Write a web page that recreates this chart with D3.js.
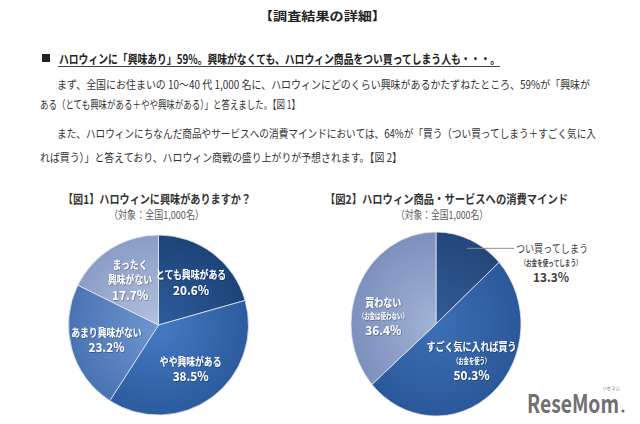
<!DOCTYPE html>
<html><head><meta charset="utf-8">
<script src="https://cdn.jsdelivr.net/npm/d3@7"></script>
<style>
html,body{margin:0;padding:0;background:#fff;}
text{font-family:"Noto Sans CJK JP","Noto Sans",sans-serif;}
</style></head>
<body><div id="chart"></div>
<script>
// ---- data ----
const pageTitle = "【調査結果の詳細】";
const heading = "ハロウィンに「興味あり」59%。興味がなくても、ハロウィン商品をつい買ってしまう人も・・・。";
const bodyLines = [
  "まず、全国にお住まいの 10～40 代 1,000 名に、ハロウィンにどのくらい興味があるかたずねたところ、59%が「興味が",
  "ある（とても興味がある＋やや興味がある）」と答えました。【図 1】",
  "また、ハロウィンにちなんだ商品やサービスへの消費マインドにおいては、64%が「買う（つい買ってしまう＋すごく気に入",
  "れば買う）」と答えており、ハロウィン商戦の盛り上がりが予想されます。【図 2】"
];
const fig1Title = "【図1】ハロウィンに興味がありますか？";
const fig2Title = "【図2】ハロウィン商品・サービスへの消費マインド";
const subtitle = "（対象：全国1,000名）";

const pie1Labels = [["とても興味がある"], ["やや興味がある"], ["あまり興味がない"], ["まったく", "興味がない"]];
const pie1Values = [20.6, 38.5, 23.2, 17.7];

const pie2Labels = ["つい買ってしまう", "すごく気に入れば買う", "買わない"];
const pie2Subs = ["（お金を使ってしまう）", "（お金を使う）", "（お金は使わない）"];
const pie2Values = [13.3, 50.3, 36.4];

// ---- styles ----
const pie1Colors = [["#2d5c9c", "#1d4479"], ["#457ac2", "#2c5b9e"], ["#6f97d1", "#4a73b2"], ["#b3c1de", "#8b9dc6"]];
const pie2Colors = [["#315d99", "#23467b"], ["#3d6fb5", "#2b589a"], ["#a3b3d6", "#7d90bd"]];
const pie2LabelNudge = [[0, 0], [0, -7], [-4, 16]];

const W = 640, H = 424;
const svg = d3.select("#chart").append("svg").attr("width", W).attr("height", H);
svg.append("rect").attr("width", W).attr("height", H).attr("fill", "#fff");
const defs = svg.append("defs");
const sh = defs.append("filter").attr("id", "sh").attr("x", "-20%").attr("y", "-20%").attr("width", "140%").attr("height", "140%");
sh.append("feDropShadow").attr("dx", 0.6).attr("dy", 0.6).attr("stdDeviation", 0.6).attr("flood-color", "#000").attr("flood-opacity", 0.45);

function fitText(sel, x, y, str, len, size, weight, fill, anchor) {
  return sel.append("text").attr("x", x).attr("y", y).text(str)
    .attr("font-size", size).attr("font-weight", weight || "normal")
    .attr("fill", fill || "#333").attr("text-anchor", anchor || "start")
    .attr("dominant-baseline", "central")
    .attr("textLength", len).attr("lengthAdjust", "spacingAndGlyphs");
}
// approximate label widths (Meiryo-like proportions)
function jpWidth(str, per) {
  let w = 0;
  for (const ch of str) w += /[（）]/.test(ch) ? per * 0.6 : per;
  return w;
}

// header
fitText(svg, 259, 15, pageTitle, 127, 12, "bold", "#222");
svg.append("rect").attr("x", 42).attr("y", 54).attr("width", 8).attr("height", 8).attr("fill", "#222");
fitText(svg, 59, 58, heading, 441, 12.5, "bold", "#222");
svg.append("line").attr("x1", 58).attr("x2", 500).attr("y1", 66.5).attr("y2", 66.5).attr("stroke", "#444").attr("stroke-width", 1);
const bodyX = [57, 40, 57, 40];
const bodyLen = [533, 260, 539, 362];
const bodyY = [84, 104, 133, 157];
bodyLines.forEach((t, i) => fitText(svg, bodyX[i], bodyY[i], t, bodyLen[i], 11.5, "normal", "#333"));

// figure titles
fitText(svg, 63, 198, fig1Title, 188, 12, "bold", "#333");
fitText(svg, 109, 214, subtitle, 95, 11, "normal", "#595959");
fitText(svg, 325, 198, fig2Title, 243, 12, "bold", "#333");
fitText(svg, 396, 214, subtitle, 92, 11, "normal", "#595959");

const pie = d3.pie().sort(null).value(d => d);

// ---- pie 1 ----
const c1 = {x: 158.5, y: 325, r: 90};
const g1 = svg.append("g").attr("transform", `translate(${c1.x},${c1.y})`);
pie1Colors.forEach((c, i) => {
  const gr = defs.append("radialGradient").attr("id", "p1g" + i).attr("gradientUnits", "userSpaceOnUse")
    .attr("cx", 0).attr("cy", 0).attr("r", c1.r);
  gr.append("stop").attr("offset", "0%").attr("stop-color", c[0]);
  gr.append("stop").attr("offset", "100%").attr("stop-color", c[1]);
});
const arc1 = d3.arc().innerRadius(0).outerRadius(c1.r);
const lab1 = d3.arc().innerRadius(c1.r * 0.6).outerRadius(c1.r * 0.6);
const a1 = pie(pie1Values);
g1.selectAll("path").data(a1).join("path").attr("d", arc1)
  .attr("fill", (d, i) => `url(#p1g${i})`).attr("stroke", "#dfe6f2").attr("stroke-width", 0.8);
a1.forEach((d, i) => {
  const [x, y] = lab1.centroid(d);
  const lines = pie1Labels[i].concat([d.data.toFixed(1) + "%"]);
  const lh = 15;
  const y0 = y - (lines.length - 1) * lh / 2;
  lines.forEach((t, j) => {
    const isPct = j === lines.length - 1;
    g1.append("text").attr("x", x).attr("y", y0 + j * lh).text(t)
      .attr("text-anchor", "middle").attr("dominant-baseline", "central")
      .attr("font-size", isPct ? 12.5 : 11).attr("font-weight", "bold")
      .attr("textLength", isPct ? 36 : jpWidth(t, 8.8)).attr("lengthAdjust", "spacingAndGlyphs")
      .attr("fill", "#fff").attr("filter", "url(#sh)");
  });
});

// ---- pie 2 ----
const c2 = {x: 436, y: 324, rx: 85, ry: 92};
const g2 = svg.append("g").attr("transform", `translate(${c2.x},${c2.y})`);
const g2s = g2.append("g").attr("transform", `scale(${c2.rx / c2.ry},1)`);
pie2Colors.forEach((c, i) => {
  const gr = defs.append("radialGradient").attr("id", "p2g" + i).attr("gradientUnits", "userSpaceOnUse")
    .attr("cx", 0).attr("cy", 0).attr("r", c2.ry);
  gr.append("stop").attr("offset", "0%").attr("stop-color", c[0]);
  gr.append("stop").attr("offset", "100%").attr("stop-color", c[1]);
});
const arc2 = d3.arc().innerRadius(0).outerRadius(c2.ry);
const a2 = pie(pie2Values);
g2s.selectAll("path").data(a2).join("path").attr("d", arc2)
  .attr("fill", (d, i) => `url(#p2g${i})`).attr("stroke", "#dfe6f2").attr("stroke-width", 0.8)
  .attr("vector-effect", "non-scaling-stroke");
const sx = c2.rx / c2.ry;
const lab2 = d3.arc().innerRadius(c2.ry * 0.63).outerRadius(c2.ry * 0.63);
const lead2 = d3.arc().innerRadius(c2.ry * 0.9).outerRadius(c2.ry * 0.9);
a2.forEach((d, i) => {
  const lines = [pie2Labels[i], pie2Subs[i], d.data.toFixed(1) + "%"];
  const sizes = [11, 7.5, 12.5];
  const widths = [jpWidth(lines[0], 9), jpWidth(lines[1], 6), 36];
  if (i === 0) {
    // outside label with leader line
    const [px, py] = lead2.centroid(d);
    const sxp = px * sx;
    const tx = 78;
    g2.append("line").attr("x1", sxp).attr("y1", py).attr("x2", tx).attr("y2", py)
      .attr("stroke", "#8c8c8c").attr("stroke-width", 1);
    const cx = tx + 37;
    lines.forEach((t, j) => {
      g2.append("text").attr("x", j === 0 ? tx + 2 : cx).attr("y", py + j * 14).text(t)
        .attr("text-anchor", j === 0 ? "start" : "middle").attr("dominant-baseline", "central")
        .attr("font-size", sizes[j]).attr("font-weight", j === 0 ? "normal" : "bold")
        .attr("textLength", widths[j]).attr("lengthAdjust", "spacingAndGlyphs")
        .attr("fill", "#404040");
    });
  } else {
    const [x0, y] = lab2.centroid(d);
    const x = x0 * sx + pie2LabelNudge[i][0];
    const lh = 14;
    const y0 = y - lh + pie2LabelNudge[i][1];
    lines.forEach((t, j) => {
      g2.append("text").attr("x", x).attr("y", y0 + j * lh).text(t)
        .attr("text-anchor", "middle").attr("dominant-baseline", "central")
        .attr("font-size", sizes[j]).attr("font-weight", "bold")
        .attr("textLength", widths[j]).attr("lengthAdjust", "spacingAndGlyphs")
        .attr("fill", "#fff").attr("filter", "url(#sh)");
    });
  }
});

// ---- logo ----
svg.append("text").attr("x", 527).attr("y", 413).text("ReseMom")
  .attr("font-family", "'Liberation Sans', Arial, sans-serif").attr("font-weight", "bold")
  .attr("font-size", 25).attr("fill", "#707070").attr("textLength", 92).attr("lengthAdjust", "spacingAndGlyphs");
svg.append("circle").attr("cx", 623).attr("cy", 411).attr("r", 1.6).attr("fill", "#707070");
svg.append("text").attr("x", 611).attr("y", 390).text("リセマム")
  .attr("font-size", 4.5).attr("fill", "#707070").attr("text-anchor", "middle");
</script>
</body></html>
